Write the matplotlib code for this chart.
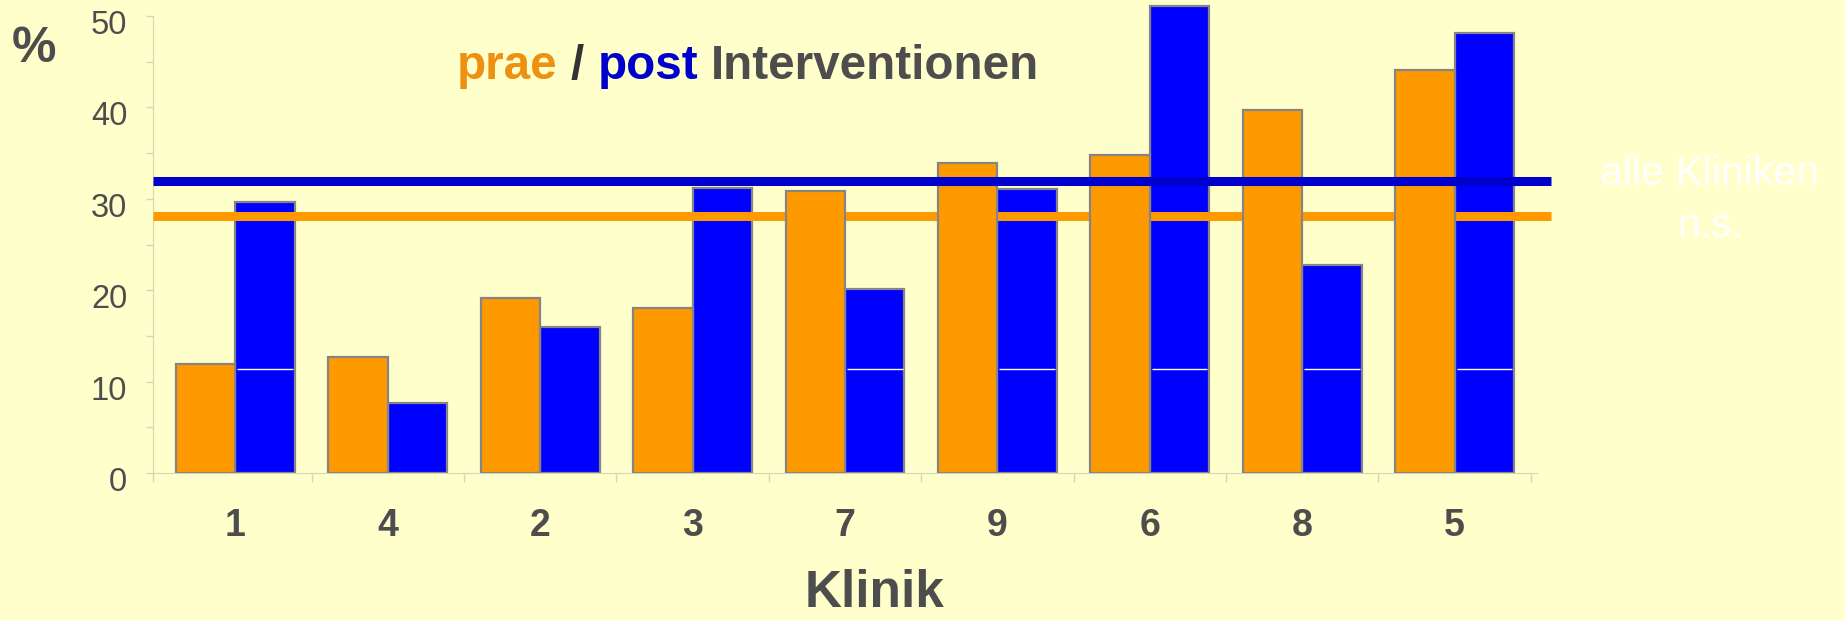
import numpy as np
import matplotlib
matplotlib.use("Agg")
import matplotlib.pyplot as plt
from matplotlib.transforms import ScaledTranslation

# Clinics in display order and the share (%) before / after the interventions
kliniken = ["1", "4", "2", "3", "7", "9", "6", "8", "5"]
prae = [11.9, 12.7, 19.1, 18.1, 30.8, 33.9, 34.8, 39.7, 44.1]
post = [29.6, 7.7, 16.0, 31.2, 20.1, 31.1, 51.1, 22.8, 48.1]

# Means over all clinics
mean_prae = 28.1
mean_post = 31.9

y_ticks = [0, 10, 20, 30, 40, 50]
y_minor = [5, 15, 25, 35, 45]

# A pale gridline that shows through some of the post bars
grid_level = 11.35
grid_visible_in = ["1", "7", "9", "6", "8", "5"]

BG = "#FFFFCC"
ORANGE = "#FF9900"
TITLE_ORANGE = "#EE9010"
BLUE = "#0000FF"
DARK_BLUE = "#0000CC"
TEXT = "#4D4D4D"
AXIS = "#D6D6B0"
EDGE = "#858585"

plt.rcParams["font.family"] = ["Liberation Sans", "DejaVu Sans"]

W, H = 1845, 620
fig = plt.figure(figsize=(W / 100, H / 100), dpi=100, facecolor=BG)
ax = fig.add_axes([153 / W, 147 / H, 1384 / W, 470.7 / H])
ax.set_facecolor(BG)

XLIM = (-0.54, 8.54)
x = np.arange(len(kliniken))
w = 0.39

bars_post = ax.bar(x + w / 2, post, w, color=BLUE, edgecolor=EDGE,
                   linewidth=1.6, zorder=2)
ax.hlines(mean_prae, XLIM[0], 8.63, colors=ORANGE, linewidth=6.5,
          zorder=3, clip_on=False, capstyle="butt")
bars_prae = ax.bar(x - w / 2, prae, w, color=ORANGE, edgecolor=EDGE,
                   linewidth=1.6, zorder=4)
ax.hlines(mean_post, XLIM[0], 8.63, colors=DARK_BLUE, linewidth=6.5,
          zorder=5, clip_on=False, capstyle="butt")

for rect, k in zip(bars_post, kliniken):
    if k in grid_visible_in and rect.get_height() > grid_level:
        x0 = rect.get_x() + 0.012
        ax.hlines(grid_level, x0, rect.get_x() + rect.get_width() - 0.012,
                  colors="white", linewidth=1.0, zorder=2.5)

ax.set_xlim(*XLIM)
ax.set_ylim(0, 51.5)

for side in ("top", "right"):
    ax.spines[side].set_visible(False)
ax.spines["left"].set_bounds(0, 50)
ax.spines["left"].set_color(AXIS)
ax.spines["bottom"].set_color(AXIS)

# y axis
ax.set_yticks(y_ticks)
ax.set_yticks(y_minor, minor=True)
ax.tick_params(axis="y", which="both", direction="out", length=5, width=1,
               color=AXIS, labelsize=23.5, labelcolor=TEXT, pad=13.5)
for lbl in ax.get_yticklabels():
    lbl.set_transform(lbl.get_transform()
                      + ScaledTranslation(0, -6 / 100, fig.dpi_scale_trans))

# x axis: labels at the clinic centres, tick marks at the group boundaries
ax.set_xticks(x, kliniken)
ax.set_xticks(np.r_[XLIM[0], x + 0.5], minor=True)
ax.tick_params(axis="x", which="major", length=0, pad=25,
               labelsize=27, labelcolor=TEXT)
ax.tick_params(axis="x", which="minor", direction="out", length=6.5,
               width=1, color=AXIS)
for lbl in ax.get_xticklabels():
    lbl.set_fontweight("bold")

# Title made of differently coloured pieces
renderer = fig.canvas.get_renderer()
title_size = 34.3
probe_a = fig.text(0, 0, "nn", fontsize=title_size, fontweight="bold")
probe_b = fig.text(0, 0, "n n", fontsize=title_size, fontweight="bold")
space_px = (probe_b.get_window_extent(renderer).width
            - probe_a.get_window_extent(renderer).width)
probe_a.remove()
probe_b.remove()

pieces = [("prae", TITLE_ORANGE), ("/", "#333333"),
          ("post", DARK_BLUE), ("Interventionen", TEXT)]
cur_x = 457.0
base_y = 1 - 79 / H
for word, col in pieces:
    t = fig.text(cur_x / W, base_y, word, fontsize=title_size,
                 fontweight="bold", color=col, ha="left", va="baseline")
    cur_x = t.get_window_extent(renderer).x1 + space_px

fig.text(34 / W, 1 - 62 / H, "%", fontsize=36, fontweight="bold",
         color=TEXT, ha="center", va="baseline")

fig.text(874 / W, 1 - 607 / H, "Klinik", fontsize=37, fontweight="bold",
         color=TEXT, ha="center", va="baseline")

fig.text(1710 / W, 1 - 185 / H, "alle Kliniken", fontsize=29.5,
         color="white", ha="center", va="baseline")
fig.text(1710 / W, 1 - 237 / H, "n.s.", fontsize=29.5,
         color="white", ha="center", va="baseline")

fig.savefig("out.png", dpi=100, facecolor=BG)
